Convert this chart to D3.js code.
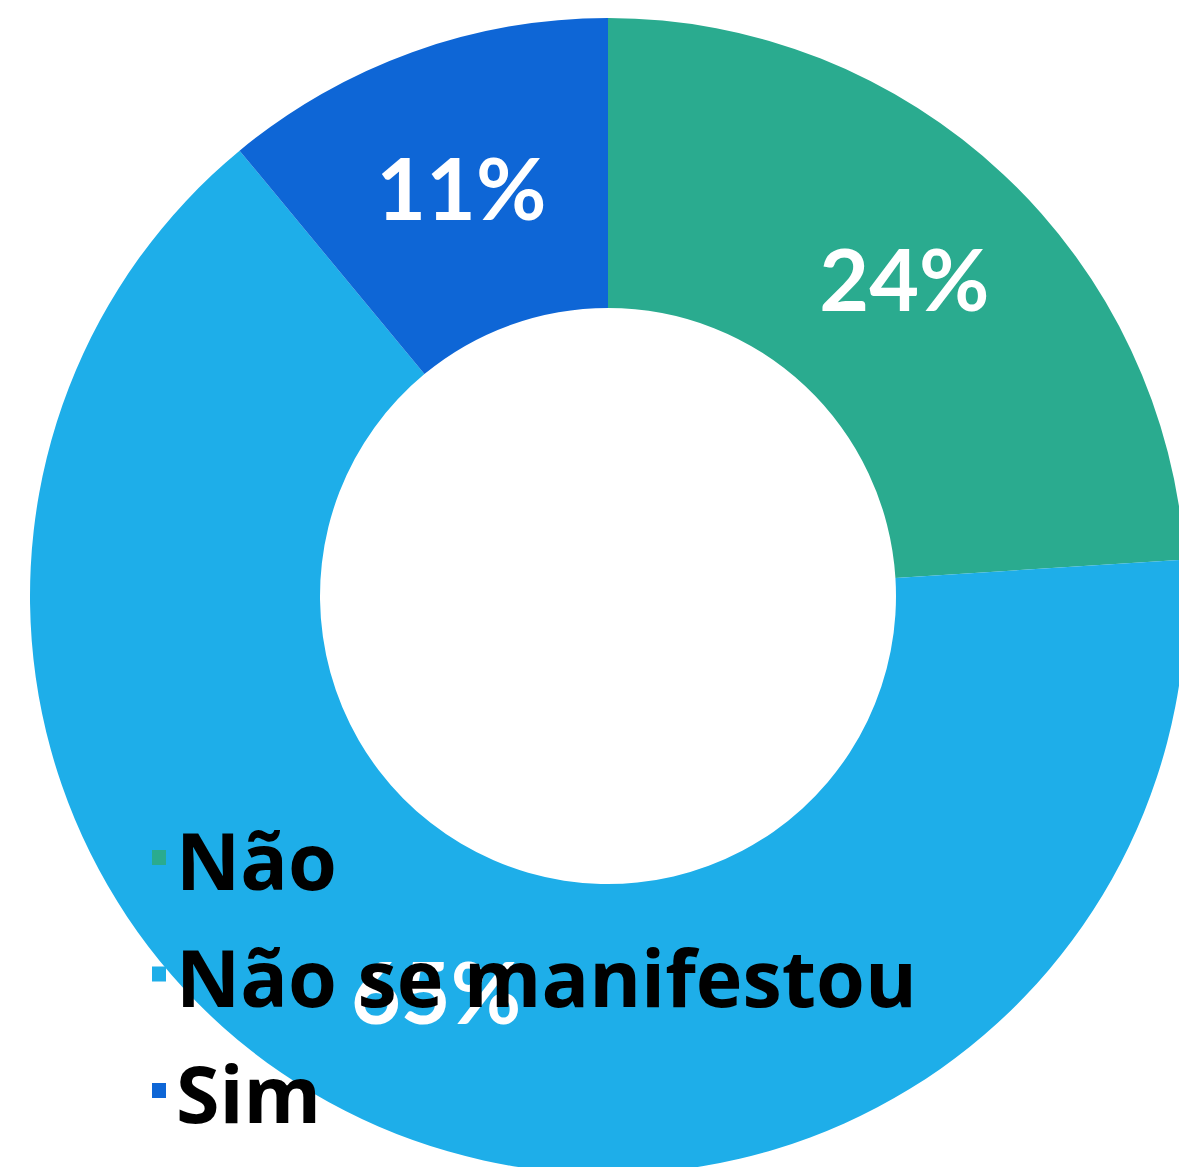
<!doctype html>
<html lang="pt">
<head>
<meta charset="utf-8">
<script src="https://d3js.org/d3.v7.min.js"></script>
<style>
  body { margin: 0; background: #fff; }
  svg text { font-weight: 700; }
</style>
</head>
<body>
<svg id="svg1"></svg>
<script>
// dados
let categories = ["Não", "Não se manifestou", "Sim"];
let values = [24, 65, 11];
let labels = ["24%", "65%", "11%"];
let colors = ["#2aab8f", "#1eaee9", "#0e66d6"];

let width = 1179, height = 1167;
let cx = 608, cy = 596;
let outerR = 578, innerR = 288;

let svg = d3.select("#svg1").attr("width", width).attr("height", height);

let data = categories.map((c, i) => ({ cat: c, value: values[i], label: labels[i], color: colors[i] }));

let pie = d3.pie().sort(null).value(d => d.value);
let arc = d3.arc().innerRadius(innerR).outerRadius(outerR);
let arcs = pie(data);

let g = svg.append("g").attr("transform", `translate(${cx},${cy})`);

g.selectAll("path")
  .data(arcs)
  .join("path")
  .attr("d", arc)
  .attr("fill", d => d.data.color);

g.selectAll("text.lbl")
  .data(arcs)
  .join("text")
  .attr("class", "lbl")
  .attr("transform", d => `translate(${arc.centroid(d)})`)
  .attr("text-anchor", "middle")
  .attr("dy", "0.36em")
  .attr("fill", "#fff")
  .attr("font-family", "Lato, sans-serif")
  .attr("font-size", 86)
  .text(d => d.data.label);

// legenda
let legend = svg.append("g").attr("transform", "translate(152, 0)");
let yScale = d3.scalePoint().domain(categories).range([890, 1123]);

let item = legend.selectAll("g")
  .data(data)
  .join("g")
  .attr("transform", d => `translate(0, ${yScale(d.cat)})`);

item.append("rect")
  .attr("x", 0)
  .attr("y", -40)
  .attr("width", 14)
  .attr("height", 15)
  .attr("fill", d => d.color);

item.append("text")
  .attr("x", 24)
  .attr("y", 0)
  .attr("fill", "#000")
  .attr("font-family", "'Open Sans', sans-serif")
  .attr("font-size", 79)
  .text(d => d.cat);
</script>
</body>
</html>
